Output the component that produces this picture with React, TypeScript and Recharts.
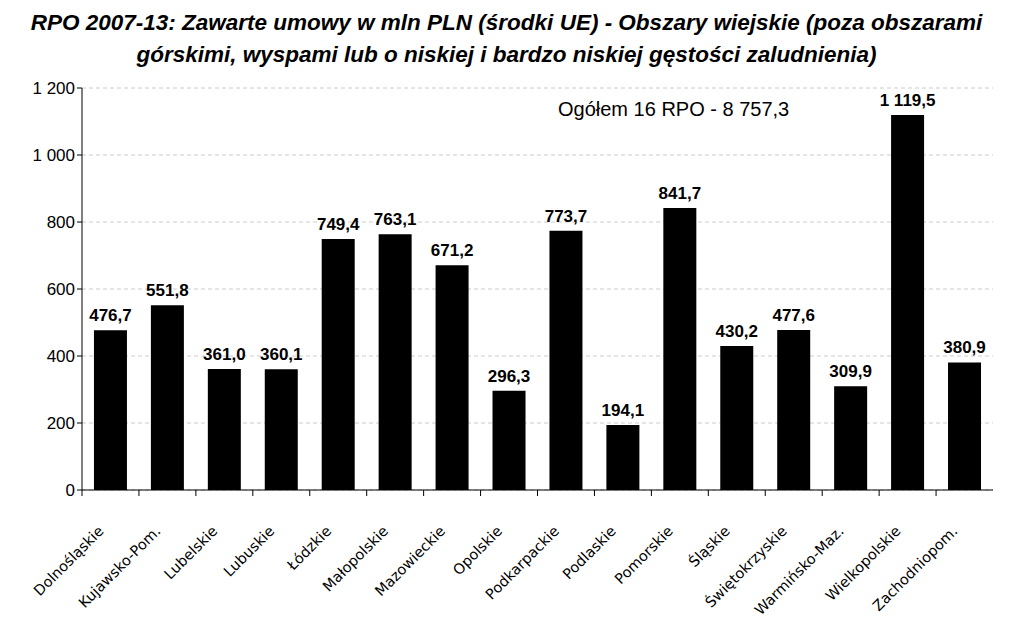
import { Bar, BarChart, CartesianGrid, LabelList, XAxis, YAxis } from 'recharts';

const regions = [
  'Dolnośląskie',
  'Kujawsko-Pom.',
  'Lubelskie',
  'Lubuskie',
  'Łódzkie',
  'Małopolskie',
  'Mazowieckie',
  'Opolskie',
  'Podkarpackie',
  'Podlaskie',
  'Pomorskie',
  'Śląskie',
  'Świętokrzyskie',
  'Warmińsko-Maz.',
  'Wielkopolskie',
  'Zachodniopom.',
];

const contracts = [
  476.7, 551.8, 361.0, 360.1, 749.4, 763.1, 671.2, 296.3, 773.7, 194.1, 841.7,
  430.2, 477.6, 309.9, 1119.5, 380.9,
];

const yTicks = [0, 200, 400, 600, 800, 1000, 1200];

const data = regions.map((name, i) => ({ name, value: contracts[i] }));

const CHART_W = 1013;
const CHART_H = 630;
const PLOT_LEFT = 82;
const PLOT_RIGHT = 20;
const HALF_BAND = (CHART_W - PLOT_LEFT - PLOT_RIGHT) / regions.length / 2;
const SANS = 'Liberation Sans, Arial, sans-serif';

function formatPl(value: number, digits: number): string {
  return new Intl.NumberFormat('pl-PL', {
    minimumFractionDigits: digits,
    maximumFractionDigits: digits,
    useGrouping: true,
  })
    .format(value)
    .replace(/\u00a0|\u202f/g, ' ');
}

function CategoryTick(props: any) {
  const { x, y, payload } = props;
  const ax = x - 6;
  const ay = y + 34;
  return (
    <g>
      <line x1={x - HALF_BAND} y1={y - 8} x2={x - HALF_BAND} y2={y - 2} stroke="#000" />
      <text
        x={ax}
        y={ay}
        textAnchor="end"
        transform={`rotate(-45, ${ax}, ${ay})`}
        fontFamily="DejaVu Sans, Verdana, sans-serif"
        fontSize={14.5}
        fill="#000"
      >
        {payload.value}
      </text>
    </g>
  );
}

function ValueLabel(props: any) {
  const { x, y, width, value } = props;
  return (
    <text
      x={x + width / 2}
      y={y - 9}
      textAnchor="middle"
      fontFamily={SANS}
      fontSize={17}
      fontWeight="bold"
      fill="#000"
    >
      {formatPl(Number(value), 1)}
    </text>
  );
}

export default function App() {
  return (
    <div style={{ position: 'absolute', left: 0, top: 0, width: CHART_W, height: CHART_H, background: '#fff' }}>
      <div
        style={{
          position: 'absolute',
          left: 0,
          top: 7,
          width: CHART_W,
          textAlign: 'center',
          fontFamily: SANS,
          fontWeight: 'bold',
          fontStyle: 'italic',
          fontSize: 22.5,
          lineHeight: '32px',
        }}
      >
        RPO 2007-13: Zawarte umowy w mln PLN (środki UE) - Obszary wiejskie (poza obszarami
        <br />
        górskimi, wyspami lub o niskiej i bardzo niskiej gęstości zaludnienia)
      </div>
      <div
        style={{
          position: 'absolute',
          left: 558,
          top: 98,
          fontFamily: SANS,
          fontSize: 20,
        }}
      >
        Ogółem 16 RPO - 8 757,3
      </div>
      <BarChart
        width={CHART_W}
        height={CHART_H}
        data={data}
        margin={{ top: 88, right: PLOT_RIGHT, bottom: 0, left: 0 }}
        barCategoryGap="21%"
        style={{ position: 'absolute', left: 0, top: 0 }}
      >
        <CartesianGrid vertical={false} stroke="#ccc" strokeDasharray="4 3" />
        <XAxis
          dataKey="name"
          interval={0}
          height={140}
          tickLine={false}
          axisLine={{ stroke: '#000' }}
          tick={<CategoryTick />}
        />
        <YAxis
          width={PLOT_LEFT}
          domain={[0, 1200]}
          ticks={yTicks}
          interval={0}
          axisLine={{ stroke: '#000' }}
          tickLine={{ stroke: '#000' }}
          tickSize={5}
          tickFormatter={(v: number) => formatPl(v, 0)}
          tick={{ fill: '#000', fontFamily: SANS, fontSize: 17 }}
        />
        <Bar dataKey="value" fill="#000" isAnimationActive={false}>
          <LabelList dataKey="value" content={<ValueLabel />} />
        </Bar>
      </BarChart>
    </div>
  );
}
